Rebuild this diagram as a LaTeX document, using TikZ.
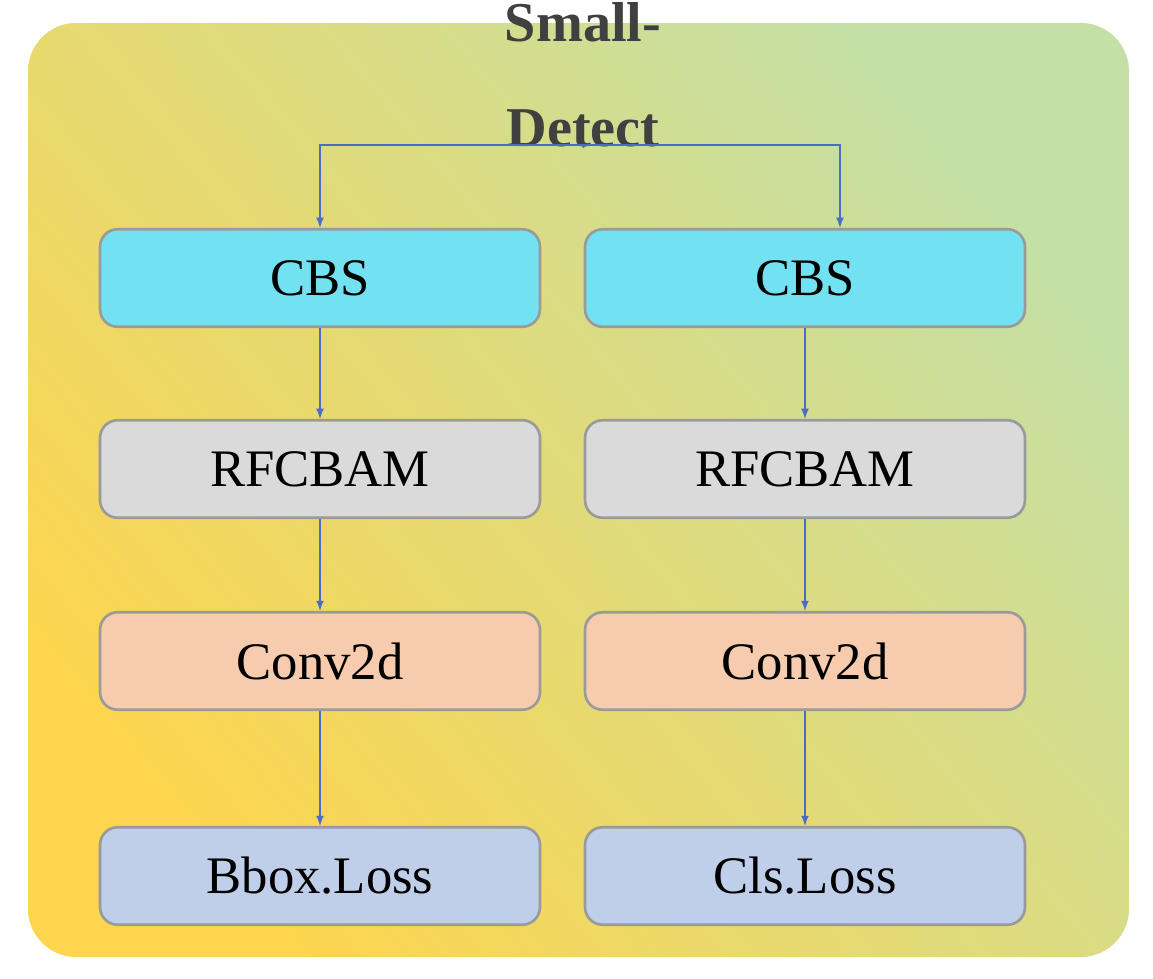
\documentclass[tikz,border=0pt]{standalone}
\usepackage{fontspec}
\setmainfont{Liberation Serif}
\usetikzlibrary{positioning}
\definecolor{bgA}{HTML}{C4E0A6}
\definecolor{bgB}{HTML}{FDD54E}
\definecolor{cbsC}{HTML}{72E2F2}
\definecolor{rfcC}{HTML}{DADADA}
\definecolor{convC}{HTML}{F6CBAE}
\definecolor{lossC}{HTML}{BFCEE9}
\definecolor{edgeC}{HTML}{9A9A9A}
\definecolor{arrC}{HTML}{4A6CC8}
\tikzset{
  blk/.style={draw=edgeC, line width=1.5pt, rounded corners=10pt, minimum width=8.8cm, minimum height=1.95cm, font=\fontsize{30}{34}\selectfont},
  arr/.style={draw=arrC, line width=1pt, -latex}
}
\begin{document}
\begin{tikzpicture}[x=0.02cm, y=-0.02cm]
  \useasboundingbox (0,0) rectangle (1153,979);
  \shade[rounded corners=28pt, left color=bgA, right color=bgB, shading angle=-50, draw=white, line width=1pt] (27,22) rectangle (1130,958);
  \node[font=\bfseries\fontsize{32}{60}\selectfont, text=black!75, align=center] (title) at (583,75) {Small-\\Detect};
  \coordinate (split) at (585,145);

  \node[blk, fill=cbsC] (cbsL) at (320,278) {CBS};
  \node[blk, fill=cbsC] (cbsR) at (805,278) {CBS};
  \node[blk, fill=rfcC] (rfcL) at (320,469) {RFCBAM};
  \node[blk, fill=rfcC] (rfcR) at (805,469) {RFCBAM};
  \node[blk, fill=convC] (convL) at (320,661) {Conv2d};
  \node[blk, fill=convC] (convR) at (805,661) {Conv2d};
  \node[blk, fill=lossC] (lossL) at (320,876) {Bbox.Loss};
  \node[blk, fill=lossC] (lossR) at (805,876) {Cls.Loss};

  \draw[draw=arrC, line width=1pt] (title.south) ++(0,-6) -- (split);
  \draw[arr] (split) -| (cbsL.north);
  \draw[arr] (split) -| ([xshift=0.7cm]cbsR.north);
  \draw[arr] (cbsL) -- (rfcL);
  \draw[arr] (cbsR) -- (rfcR);
  \draw[arr] (rfcL) -- (convL);
  \draw[arr] (rfcR) -- (convR);
  \draw[arr] (convL) -- (lossL);
  \draw[arr] (convR) -- (lossR);
\end{tikzpicture}
\end{document}
